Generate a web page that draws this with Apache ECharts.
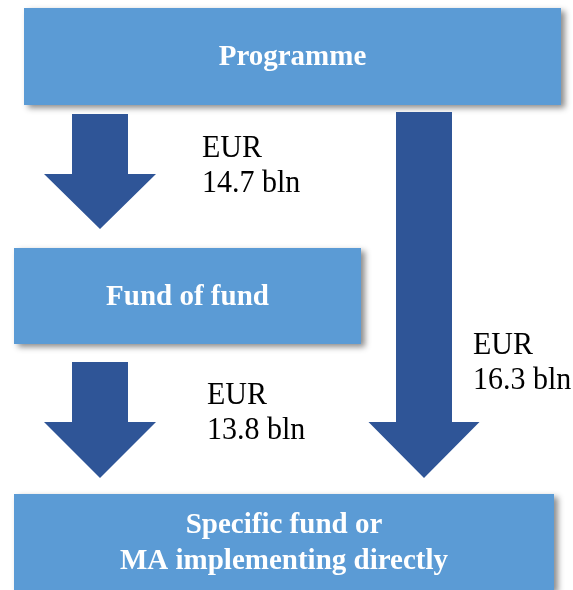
<!DOCTYPE html>
<html>
<head>
<meta charset="utf-8">
<script src="https://cdn.jsdelivr.net/npm/echarts@6/dist/echarts.min.js"></script>
<style>
  html, body { margin: 0; padding: 0; background: #fff; }
  #chart { width: 573px; height: 590px; }
</style>
</head>
<body>
<div id="chart"></div>
<script>
// flow diagram data
const nodeNames = ['Programme', 'Fund of fund', 'Specific fund or\nMA implementing directly']
const flowFrom = [0, 1, 0]
const flowTo = [1, 2, 2]
const flowAmounts = [14.7, 13.8, 16.3]
const currency = 'EUR'
const unit = 'bln'

// layout (pixels)
const boxes = [
  { x: 24, y: 8, w: 537, h: 97 },
  { x: 14, y: 248, w: 347, h: 96 },
  { x: 14, y: 494, w: 540, h: 96 }
]
const arrows = [
  { cx: 100, top: 114, neck: 174, tip: 229, shaftW: 56, headW: 112, lx: 202, ly: 131 },
  { cx: 100, top: 362, neck: 422, tip: 478, shaftW: 56, headW: 112, lx: 207, ly: 378 },
  { cx: 424, top: 112, neck: 422, tip: 478, shaftW: 56, headW: 111, lx: 473, ly: 328 }
]

const BOX_COLOR = '#5b9bd5'
const ARROW_COLOR = '#2f5597'
const FONT = '"Liberation Serif", "Times New Roman", serif'

const chart = echarts.init(document.getElementById('chart'))

const elements = []

boxes.forEach((b, i) => {
  elements.push({
    type: 'rect',
    shape: { x: b.x, y: b.y, width: b.w, height: b.h },
    style: {
      fill: BOX_COLOR,
      shadowBlur: 6,
      shadowOffsetX: 4,
      shadowOffsetY: 3,
      shadowColor: 'rgba(0,0,0,0.45)'
    },
    z: 1
  })
  elements.push({
    type: 'text',
    x: b.x + b.w / 2,
    y: b.y + b.h / 2 + 1,
    scaleY: 1.04,
    style: {
      x: 0,
      y: 0,
      text: nodeNames[i],
      font: 'bold 29px ' + FONT,
      fill: '#fff',
      align: 'center',
      verticalAlign: 'middle',
      lineHeight: 35
    },
    z: 2
  })
})

arrows.forEach((a, i) => {
  const s = a.shaftW / 2
  const h = a.headW / 2
  elements.push({
    type: 'polygon',
    shape: {
      points: [
        [a.cx - s, a.top], [a.cx + s, a.top], [a.cx + s, a.neck],
        [a.cx + h, a.neck], [a.cx, a.tip], [a.cx - h, a.neck], [a.cx - s, a.neck]
      ]
    },
    style: { fill: ARROW_COLOR },
    z: 1
  })
  elements.push({
    type: 'text',
    x: a.lx,
    y: a.ly,
    scaleY: 1.07,
    style: {
      x: 0,
      y: 0,
      text: currency + '\n' + flowAmounts[i].toFixed(1) + ' ' + unit,
      font: '30px ' + FONT,
      fill: '#000',
      align: 'left',
      verticalAlign: 'top',
      lineHeight: 33
    },
    z: 2
  })
})

chart.setOption({
  animation: false,
  graphic: { elements: elements }
})

window.addEventListener('resize', () => chart.resize())
</script>
</body>
</html>
